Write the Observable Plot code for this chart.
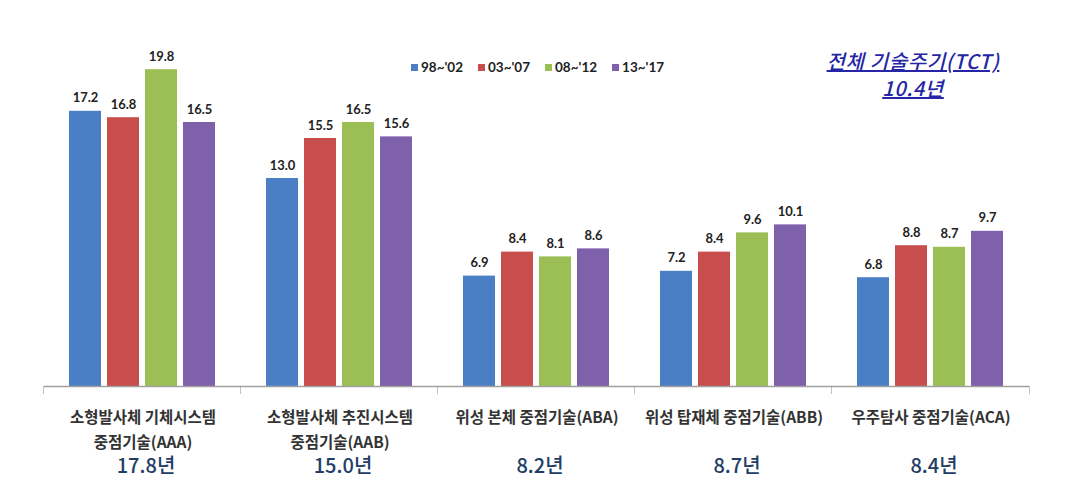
<!DOCTYPE html>
<html>
<head>
<meta charset="utf-8">
<script src="https://cdn.jsdelivr.net/npm/d3@7"></script>
<script src="https://cdn.jsdelivr.net/npm/@observablehq/plot@0.6"></script>
<style>
  html, body { margin: 0; padding: 0; background: #fff; }
  #wrap { position: relative; width: 1068px; height: 499px; overflow: hidden; }
  #chart { position: absolute; left: 0; top: 0; }
  #legend { position: absolute; left: 411px; top: 59px; display: flex; gap: 15px;
    font-family: Lato, "Noto Sans CJK KR", sans-serif; font-weight: 700; font-size: 13.5px; color: #222; }
  #legend .item { display: flex; align-items: center; gap: 3px; }
  #legend .sw { width: 7px; height: 7px; display: inline-block; }
  #title { position: absolute; left: 793px; width: 240px; top: 47px; text-align: center;
    font-family: "Noto Sans CJK KR", sans-serif; font-style: italic; font-weight: 500;
    font-size: 20px; letter-spacing: 0.6px; line-height: 27px; color: #2525a5; text-decoration: underline; }
</style>
</head>
<body>
<div id="wrap">
  <div id="chart"></div>
  <div id="legend"></div>
  <div id="title">전체 기술주기(TCT)<br>10.4년</div>
</div>
<script>
const groups = ["AAA", "AAB", "ABA", "ABB", "ACA"];
const groupLabels = [
  "소형발사체 기체시스템\n중점기술(AAA)",
  "소형발사체 추진시스템\n중점기술(AAB)",
  "위성 본체 중점기술(ABA)",
  "위성 탑재체 중점기술(ABB)",
  "우주탐사 중점기술(ACA)"
];
const groupCycles = ["17.8년", "15.0년", "8.2년", "8.7년", "8.4년"];
const series = ["98~'02", "03~'07", "08~'12", "13~'17"];
const colors = ["#4a7fc6", "#c84e4d", "#9cbf55", "#7f60aa"];
const values98 = [17.2, 13.0, 6.9, 7.2, 6.8];
const values03 = [16.8, 15.5, 8.4, 8.4, 8.8];
const values08 = [19.8, 16.5, 8.1, 9.6, 8.7];
const values13 = [16.5, 15.6, 8.6, 10.1, 9.7];
const seriesValues = [values98, values03, values08, values13];

const rows = [];
groups.forEach((g, gi) => {
  series.forEach((s, si) => rows.push({group: g, series: s, value: seriesValues[si][gi]}));
});
const groupRows = groups.map((g, i) => ({group: g, label: groupLabels[i], cycle: groupCycles[i]}));

const W = 1068, H = 499;
const mL = 42, mR = 37, mT = 66, mB = 105;
const facetW = (W - mL - mR) / groups.length;
const tickW = 1.4;

const plot = Plot.plot({
  width: W,
  height: H,
  marginLeft: mL,
  marginRight: mR,
  marginTop: mT,
  marginBottom: mB,
  style: {background: "transparent", overflow: "visible"},
  fx: {domain: groups, axis: null, paddingInner: 0, paddingOuter: 0},
  x: {domain: series, axis: null, paddingInner: 0.154, paddingOuter: 0.613},
  y: {domain: [-0.5, 20], axis: null},
  color: {domain: series, range: colors},
  marks: [
    Plot.barY(rows, {fx: "group", x: "series", y1: 0, y2: "value", fill: "series"}),
    Plot.ruleY([0], {stroke: "#a0a0a0", strokeWidth: 1.3}),
    Plot.rect(groupRows, {fx: "group", y1: 0, y2: -0.5, insetLeft: -tickW / 2, insetRight: facetW - tickW / 2, fill: "#9a9a9a"}),
    Plot.rect(groupRows.slice(-1), {fx: "group", y1: 0, y2: -0.5, insetLeft: facetW - tickW / 2, insetRight: -tickW / 2, fill: "#9a9a9a"}),
    Plot.text(rows, {fx: "group", x: "series", y: "value", text: d => d.value.toFixed(1),
      lineAnchor: "bottom", dy: -9, fontFamily: "Lato, sans-serif", fontWeight: 700, fontSize: 13, fill: "#222"}),
    Plot.text(groupRows, {fx: "group", frameAnchor: "bottom", text: "label", lineAnchor: "top",
      dy: 11, lineHeight: 1.6, fontFamily: "'Noto Sans CJK KR', sans-serif", fontWeight: 700, fontSize: 15.5,
      letterSpacing: "1.2px", fill: "#333"}),
    Plot.text(groupRows, {fx: "group", frameAnchor: "bottom", text: "cycle", lineAnchor: "middle",
      dy: 72, dx: 3, fontFamily: "'Noto Sans CJK KR', sans-serif", fontWeight: 500, fontSize: 20, fill: "#223d66"})
  ]
});
document.getElementById("chart").appendChild(plot);

const legend = document.getElementById("legend");
series.forEach((s, i) => {
  const item = document.createElement("span");
  item.className = "item";
  const sw = document.createElement("span");
  sw.className = "sw";
  sw.style.background = colors[i];
  item.appendChild(sw);
  item.appendChild(document.createTextNode(s));
  legend.appendChild(item);
});
</script>
</body>
</html>
